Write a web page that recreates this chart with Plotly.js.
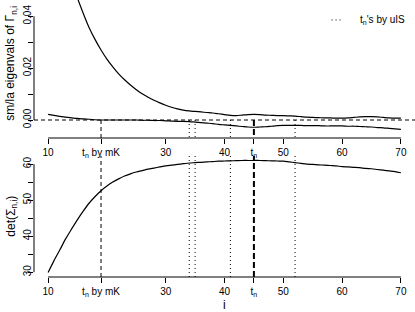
<!DOCTYPE html>
<html>
<head>
<meta charset="utf-8">
<script src="https://cdn.plot.ly/plotly-3.0.1.min.js"></script>
<style>html,body{margin:0;padding:0;background:#fff;}#chart{width:415px;height:312px;}</style>
</head>
<body>
<div id="chart"></div>
<script>
// ---- data ----
const iValues = [10,11,12,13,14,15,16,17,18,19,20,21,22,23,24,25,26,27,28,29,30,31,32,33,34,35,36,37,38,39,40,41,42,43,44,45,46,47,48,49,50,51,52,53,54,55,56,57,58,59,60,61,62,63,64,65,66,67,68,69,70];
const largestEig = [0.095,0.082,0.071,0.062,0.054,0.047,0.041,0.0355,0.031,0.027,0.0235,0.0205,0.0178,0.0155,0.0135,0.0117,0.0101,0.0088,0.0076,0.0066,0.0057,0.0049,0.0043,0.0038,0.0035,0.0033,0.0031,0.0029,0.0027,0.0024,0.0021,0.0018,0.0017,0.0019,0.0021,0.0022,0.0021,0.0019,0.0018,0.0017,0.0017,0.0016,0.0015,0.0013,0.0011,0.0010,0.0009,0.0008,0.0008,0.0007,0.0007,0.0008,0.0010,0.0012,0.0013,0.0013,0.0012,0.0010,0.0008,0.0007,0.0007];
const smallestEig = [0.0022,0.0018,0.0014,0.0011,0.0008,0.0006,0.0004,0.0003,0.0001,0.0000,0.0000,0.0000,0.0000,0.0000,0.0000,0.0000,-0.0001,-0.0001,-0.0002,-0.0002,-0.0003,-0.0004,-0.0005,-0.0005,-0.0006,-0.0008,-0.0010,-0.0012,-0.0014,-0.0017,-0.0019,-0.0021,-0.0023,-0.0025,-0.0027,-0.0028,-0.0027,-0.0026,-0.0024,-0.0022,-0.0021,-0.0021,-0.0021,-0.0021,-0.0022,-0.0022,-0.0022,-0.0023,-0.0023,-0.0023,-0.0023,-0.0024,-0.0024,-0.0025,-0.0026,-0.0027,-0.0029,-0.0030,-0.0032,-0.0034,-0.0036];
const detSigma = [29.9,33.2,36.2,39.3,42.0,44.6,47.0,49.2,51.0,52.6,53.9,55.0,55.9,56.7,57.3,57.8,58.2,58.6,58.9,59.2,59.5,59.7,59.9,60.1,60.3,60.4,60.5,60.6,60.7,60.8,60.85,60.9,60.95,61.0,61.0,61.0,61.0,60.95,60.9,60.85,60.8,60.6,60.4,60.2,60.0,59.9,59.8,59.7,59.6,59.5,59.3,59.2,59.1,59.0,58.8,58.7,58.5,58.3,58.1,57.9,57.6];

const tnByMK = 19;
const tnValue = 45;
const tnByUIS = [34, 35, 41, 52];

const xTickVals = [10, 19, 30, 40, 45, 50, 60, 70];
const xTickText = ['10', 't<sub>n</sub> by mK', '30', '40', 't<sub>n</sub>', '50', '60', '70'];
const yTopTickVals = [0, 0.02, 0.04];
const yTopTickText = ['0.00', '0.02', '0.04'];
const yTopMinorVals = [0.01, 0.03];
const yBotTickVals = [30, 40, 50, 60];
const yBotTickText = ['30', '40', '50', '60'];
const yBotMinorVals = [35, 45, 55];

const xRange = [7.6, 72.4];
const yTopRange = [-0.00694, 0.04628];
const yBotRange = [28.66, 62.24];

const legendLabel = "t<sub>n</sub>'s by uIS";
const yTopTitle = 'sm/la eigenvals of Γ<sub>n,i</sub>';
const yBotTitle = 'det(Σ<sub>n,i</sub>)';
const xBotTitle = 'i';

// ---- traces ----
const lineStyle = {color: '#000', width: 1.2, shape: 'spline', smoothing: 0.8};
const traces = [
  {x: iValues, y: largestEig, xaxis: 'x', yaxis: 'y', mode: 'lines', line: lineStyle, showlegend: false, hoverinfo: 'skip'},
  {x: iValues, y: smallestEig, xaxis: 'x', yaxis: 'y', mode: 'lines', line: lineStyle, showlegend: false, hoverinfo: 'skip'},
  {x: iValues, y: detSigma, xaxis: 'x2', yaxis: 'y2', mode: 'lines', line: lineStyle, showlegend: false, hoverinfo: 'skip'}
];

// ---- shapes ----
const shapes = [];
const thinDash = '4px,3px';
const dotDash = '1px,3px';
shapes.push({type: 'line', xref: 'x domain', yref: 'y', x0: 0, x1: 1, y0: 0, y1: 0, line: {color: '#000', width: 1, dash: thinDash}});
function vlines(v, style) {
  shapes.push({type: 'line', xref: 'x', yref: 'y', x0: v, x1: v, y0: 0, y1: yTopRange[0], line: style});
  shapes.push({type: 'line', xref: 'x2', yref: 'y2 domain', x0: v, x1: v, y0: 0, y1: 1, line: style});
}
vlines(tnByMK, {color: '#000', width: 1, dash: thinDash});
tnByUIS.forEach(v => vlines(v, {color: '#000', width: 1, dash: dotDash}));
vlines(tnValue, {color: '#000', width: 2, dash: '6px,3px'});

// R-style axis lines spanning first to last tick
const xMin = Math.min(...xTickVals), xMax = Math.max(...xTickVals);
shapes.push({type: 'line', xref: 'x', yref: 'y domain', x0: xMin, x1: xMax, y0: 0, y1: 0, line: {color: '#000', width: 1}});
shapes.push({type: 'line', xref: 'x2', yref: 'y2 domain', x0: xMin, x1: xMax, y0: 0, y1: 0, line: {color: '#000', width: 1}});
shapes.push({type: 'line', xref: 'x domain', yref: 'y', x0: 0, x1: 0, y0: Math.min(...yTopTickVals), y1: Math.max(...yTopTickVals), line: {color: '#000', width: 1}});
shapes.push({type: 'line', xref: 'x2 domain', yref: 'y2', x0: 0, x1: 0, y0: Math.min(...yBotTickVals), y1: Math.max(...yBotTickVals), line: {color: '#000', width: 1}});

// legend sample (dotted)
shapes.push({type: 'line', xref: 'paper', yref: 'paper', x0: 0.781, x1: 0.812, y0: 0.928, y1: 0.928, line: {color: '#000', width: 1, dash: dotDash}});

const fam = 'Liberation Sans, Arial, Helvetica, sans-serif';
const font = {family: fam, size: 10, color: '#000'};
const titleFont = {family: fam, size: 12, color: '#000'};

function xAxis(anchor) {
  return {anchor: anchor, domain: [0, 1], range: xRange, tickmode: 'array', tickvals: xTickVals, ticktext: xTickText,
    ticks: 'outside', ticklen: 5, tickcolor: '#000', tickwidth: 1, showgrid: false, zeroline: false, showline: false,
    tickfont: font, tickangle: 0};
}
function yAxis(anchor, domain, range, tv, tt, mv) {
  return {anchor: anchor, domain: domain, range: range, tickmode: 'array', tickvals: tv, ticktext: tt,
    ticks: 'outside', ticklen: 5, tickcolor: '#000', tickwidth: 1, showgrid: false, zeroline: false, showline: false,
    minor: {tickmode: 'array', tickvals: mv, ticks: 'outside', ticklen: 5, tickcolor: '#000', tickwidth: 1, showgrid: false},
    tickfont: font, tickangle: -90, ticklabelstandoff: -7};
}

const layout = {
  width: 415, height: 312,
  margin: {l: 34, r: 0, t: 0, b: 35},
  paper_bgcolor: '#fff', plot_bgcolor: '#fff',
  showlegend: false,
  xaxis: xAxis('y'),
  yaxis: yAxis('x', [0.5018, 1], yTopRange, yTopTickVals, yTopTickText, yTopMinorVals),
  xaxis2: xAxis('y2'),
  yaxis2: yAxis('x2', [0, 0.4368], yBotRange, yBotTickVals, yBotTickText, yBotMinorVals),
  shapes: shapes,
  annotations: [
    {xref: 'paper', yref: 'paper', x: 0.85, y: 0.928, xanchor: 'left', yanchor: 'middle', text: legendLabel, showarrow: false, font: font},
    {xref: 'paper', yref: 'paper', x: -0.06, y: 0.77, xanchor: 'center', yanchor: 'middle', textangle: -90, text: yTopTitle, showarrow: false, font: titleFont},
    {xref: 'paper', yref: 'y2 domain', x: -0.06, y: 0.5, xanchor: 'center', yanchor: 'middle', textangle: -90, text: yBotTitle, showarrow: false, font: titleFont},
    {xref: 'x2 domain', yref: 'paper', x: 0.5, y: -0.1, xanchor: 'center', yanchor: 'middle', text: xBotTitle, showarrow: false, font: titleFont}
  ]
};

Plotly.newPlot('chart', traces, layout, {staticPlot: true, displayModeBar: false});
</script>
</body>
</html>
